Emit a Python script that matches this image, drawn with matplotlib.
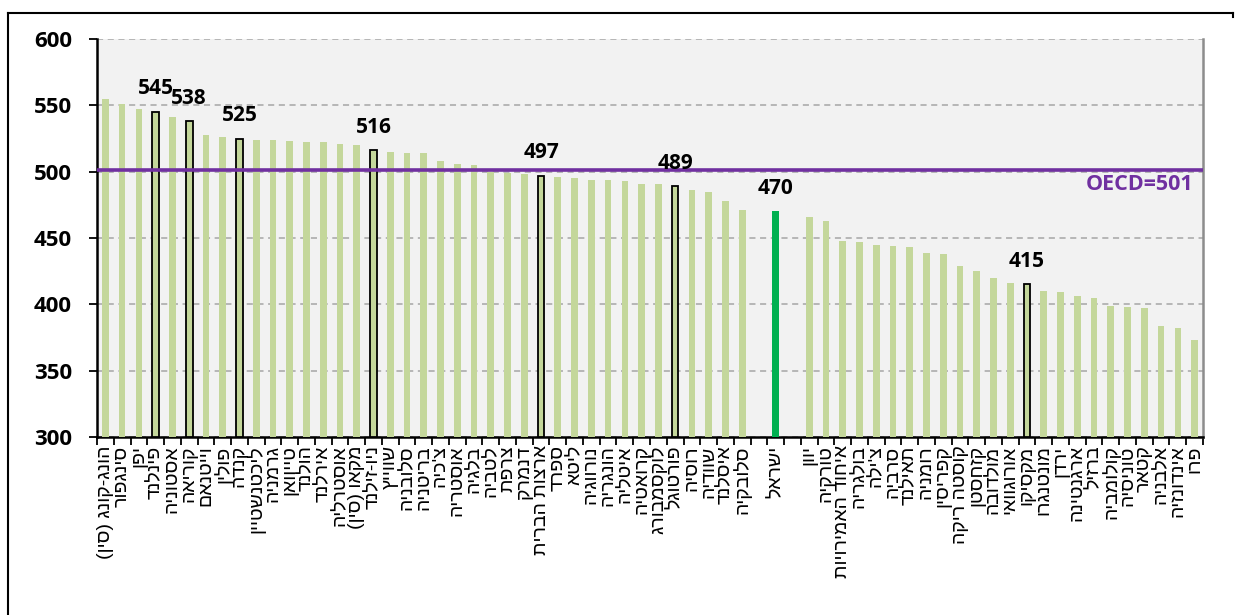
import numpy as np
import matplotlib
matplotlib.use("Agg")
import matplotlib.pyplot as plt
from matplotlib.lines import Line2D

# ---------------- data ----------------
countries = [
    "הונג-קונג (סין)", "סינגפור", "יפן", "פינלנד", "אסטוניה", "קוריאה", "וייטנאם", "פולין",
    "קנדה", "ליכטנשטיין", "גרמניה", "טייוואן", "הולנד", "אירלנד", "אוסטרליה", "מקאו (סין)",
    "ניו-זילנד", "שווייץ", "סלובניה", "בריטניה", "צ'כיה", "אוסטריה", "בלגיה", "לטביה",
    "צרפת", "דנמרק", "ארצות הברית", "ספרד", "ליטא", "נורווגיה", "הונגריה", "איטליה",
    "קרואטיה", "לוקסמבורג", "פורטוגל", "רוסיה", "שוודיה", "איסלנד", "סלובקיה", "",
    "ישראל", "", "יוון", "טורקיה", "איחוד האמירויות", "בולגריה", "צ'ילה", "סרביה",
    "תאילנד", "רומניה", "קפריסין", "קוסטה ריקה", "קזחסטן", "מולדובה", "אורוגוואי", "מקסיקו",
    "מונטנגרו", "ירדן", "ארגנטינה", "ברזיל", "קולומביה", "טוניסיה", "קטאר", "אלבניה",
    "אינדונזיה", "פרו",
]
scores = [
    555, 551, 547, 545, 541, 538, 528, 526,
    525, 524, 524, 523, 522, 522, 521, 520,
    516, 515, 514, 514, 508, 506, 505, 500,
    499, 498, 497, 496, 495, 494, 494, 493,
    491, 491, 489, 486, 485, 478, 471, np.nan,
    470, np.nan, 466, 463, 448, 447, 445, 444,
    443, 439, 438, 429, 425, 420, 416, 415,
    410, 409, 406, 405, 399, 398, 397, 384,
    382, 373,
]
highlighted = ["פינלנד", "קוריאה", "קנדה", "ניו-זילנד", "ארצות הברית", "פורטוגל", "מקסיקו"]
home = "ישראל"
oecd_avg = 501
oecd_label = "OECD=501"
y_ticks = [300, 350, 400, 450, 500, 550, 600]

# ---------------- style ----------------
C_BAR = "#C4D79B"
C_HOME = "#00B050"
C_BG = "#F2F2F2"
C_OECD = "#7030A0"
C_GRID = "#A6A6A6"
NUM_FONT = ["Open Sans", "DejaVu Sans"]

W, H = 1236, 615
fig = plt.figure(figsize=(W / 100, H / 100), dpi=100)
fig.patch.set_facecolor("white")
ax = fig.add_axes([97 / W, (H - 437) / H, (1203 - 97) / W, (437 - 39) / H])
ax.set_facecolor(C_BG)


def visual_rtl(s):
    swap = {"(": ")", ")": "("}
    return "".join(swap.get(ch, ch) for ch in s[::-1])


n = len(countries)
x = np.arange(n)
vals = np.array(scores, dtype=float)

for i in range(n):
    v = vals[i]
    if np.isnan(v):
        continue
    name = countries[i]
    if name == home:
        ax.bar(x[i], v - 300, bottom=300, width=0.4, color=C_HOME, zorder=3)
    elif name in highlighted:
        ax.bar(x[i], v - 300, bottom=300, width=0.4, color=C_BAR,
               edgecolor="black", linewidth=1.3, zorder=4)
    else:
        ax.bar(x[i], v - 300, bottom=300, width=0.4, color=C_BAR, zorder=3)
    if name == home or name in highlighted:
        ax.annotate(f"{int(v)}", (x[i], v), xytext=(0, 9), textcoords="offset points",
                    ha="center", va="bottom", fontsize=15, fontweight="bold",
                    family=NUM_FONT, color="black", zorder=6)

# OECD line
ax.axhline(oecd_avg, color=C_OECD, linewidth=2.6, zorder=5)
ax.text(n - 1.1, oecd_avg - 3, oecd_label, ha="right", va="top", fontsize=15.5,
        fontweight="bold", color=C_OECD, family=NUM_FONT, zorder=6)

ax.set_xlim(-0.5, n - 0.5)
ax.set_ylim(300, 600)
ax.set_yticks(y_ticks)
ax.set_yticklabels([str(t) for t in y_ticks], fontsize=16, fontweight="bold", family=NUM_FONT)
ax.yaxis.grid(True, color=C_GRID, linestyle=(0, (4, 3)), linewidth=1.1, zorder=1)
ax.set_axisbelow(True)

ax.set_xticks(np.arange(n + 1) - 0.5)
ax.set_xticklabels([])
ax.set_xticks(x, minor=True)
ax.set_xticklabels([visual_rtl(c) for c in countries], minor=True, rotation=90,
                   fontsize=14, family=["Liberation Sans", "DejaVu Sans"],
                   va="top", ha="center")
ax.tick_params(axis="x", which="major", direction="out", length=6, width=1.3, color="black")
ax.tick_params(axis="x", which="minor", length=0, pad=6)
ax.tick_params(axis="y", which="major", direction="out", length=6, width=1.3, pad=12)

for s in ["left", "bottom"]:
    ax.spines[s].set_color("black")
    ax.spines[s].set_linewidth(1.8)
ax.spines["top"].set_visible(False)
ax.spines["right"].set_color("#8C8C8C")
ax.spines["right"].set_linewidth(1.8)

# outer chart frame
fx0, fx1, fy = 8 / W, 1233 / W, 1 - 13 / H
fig.add_artist(Line2D([fx0, fx1], [fy, fy], color="black", linewidth=1.5, transform=fig.transFigure))
fig.add_artist(Line2D([fx0, fx0], [fy, 0], color="black", linewidth=1.5, transform=fig.transFigure))
fig.add_artist(Line2D([fx1, fx1], [fy, fy - 4 / H], color="black", linewidth=1.5, transform=fig.transFigure))

fig.savefig("out.png", dpi=100, facecolor="white")
